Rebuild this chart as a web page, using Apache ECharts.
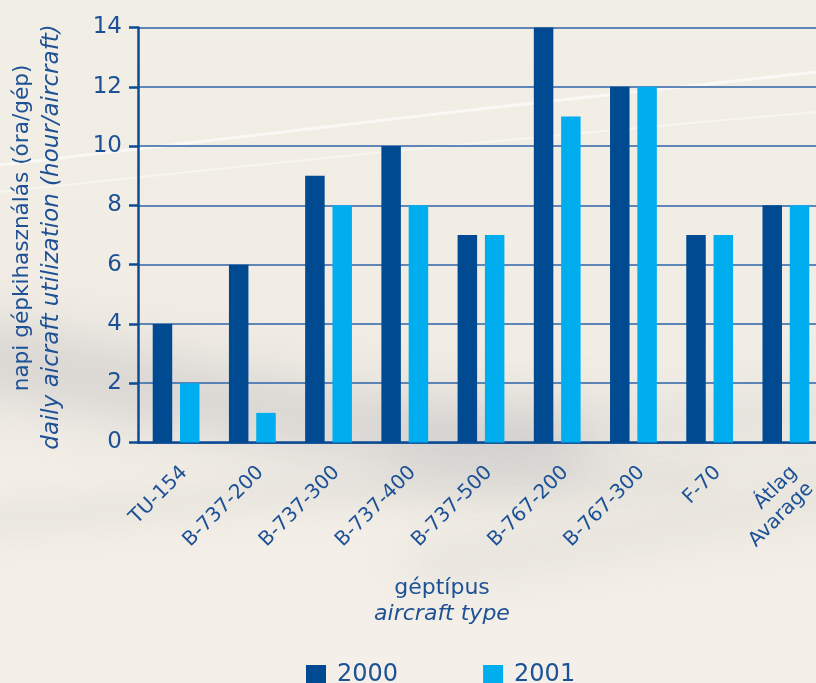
<!DOCTYPE html>
<html>
<head>
<meta charset="utf-8">
<script src="https://cdn.jsdelivr.net/npm/echarts@6/dist/echarts.min.js"></script>
<style>html,body{margin:0;padding:0;background:#f3efe7;}#c{width:816px;height:683px;}</style>
</head>
<body>
<div id="c"></div>
<script>
const categories = ['TU-154','B-737-200','B-737-300','B-737-400','B-737-500','B-767-200','B-767-300','F-70','Átlag\nAvarage'];
const values2000 = [4, 6, 9, 10, 7, 14, 12, 7, 8];
const values2001 = [2, 1, 8, 8, 7, 11, 12, 7, 8];
const yTicks = {min: 0, max: 14, interval: 2};
const seriesNames = ['2000', '2001'];

const TXT = '#1d5196';
const AX = '#0d4b94';
const FONT = 'DejaVu Sans';
const OFF = 2000; // decorative swooshes drawn off-canvas; only their blurred shadows show

function swoosh(x1, y1, cx1, cy1, cx2, cy2, x2, y2, w, color, blur) {
  return {type: 'bezierCurve', z: -19, silent: true,
    shape: {x1: x1 - OFF, y1: y1, cpx1: cx1 - OFF, cpy1: cy1, cpx2: cx2 - OFF, cpy2: cy2, x2: x2 - OFF, y2: y2},
    style: {stroke: '#000', lineWidth: w, lineCap: 'round', fill: null, shadowBlur: blur, shadowColor: color, shadowOffsetX: OFF, shadowOffsetY: 0}};
}

const chart = echarts.init(document.getElementById('c'), null, {renderer: 'canvas'});
chart.setOption({
  backgroundColor: '#f3efe7',
  animation: false,
  textStyle: {fontFamily: FONT},
  graphic: [
    {type: 'rect', z: -20, silent: true, shape: {x: 0, y: 0, width: 816, height: 683},
     style: {fill: new echarts.graphic.LinearGradient(0, 0, 0, 1, [
       {offset: 0, color: '#f1eee6'}, {offset: 0.5, color: '#f1ede5'}, {offset: 1, color: '#f4f0e9'}])}},
    swoosh(-100, 345, 100, 370, 280, 430, 560, 445, 60, 'rgba(170,170,176,0.42)', 60),
    swoosh(420, 450, 540, 440, 680, 425, 900, 405, 45, 'rgba(185,185,190,0.28)', 50),
    swoosh(-100, 530, 150, 505, 400, 480, 700, 478, 22, 'rgba(195,194,192,0.28)', 30),
    swoosh(430, 565, 600, 540, 720, 510, 900, 480, 40, 'rgba(195,194,192,0.28)', 45),
    {type: 'bezierCurve', z: -18, silent: true,
     shape: {x1: 0, y1: 165, cpx1: 250, cpy1: 135, cpx2: 550, cpy2: 100, x2: 816, y2: 72},
     style: {stroke: 'rgba(255,255,255,0.6)', lineWidth: 3, fill: null}},
    {type: 'bezierCurve', z: -18, silent: true,
     shape: {x1: 0, y1: 192, cpx1: 250, cpy1: 165, cpx2: 550, cpy2: 135, x2: 816, y2: 112},
     style: {stroke: 'rgba(255,255,255,0.45)', lineWidth: 2, fill: null}},
    {type: 'text', z: 10, x: 22, y: 228, rotation: Math.PI / 2,
     style: {text: 'napi gépkihasználás (óra/gép)', fill: TXT, font: '21.6px "DejaVu Sans"', align: 'center', verticalAlign: 'middle'}},
    {type: 'text', z: 10, x: 52, y: 237, rotation: Math.PI / 2,
     style: {text: 'daily aicraft utilization (hour/aircraft)', fill: TXT, font: 'italic 23px "DejaVu Sans"', align: 'center', verticalAlign: 'middle'}},
    {type: 'text', z: 10, x: 442, y: 588,
     style: {text: 'géptípus', fill: TXT, font: '22px "DejaVu Sans"', align: 'center', verticalAlign: 'middle'}},
    {type: 'text', z: 10, x: 442, y: 614,
     style: {text: 'aircraft type', fill: TXT, font: 'italic 22px "DejaVu Sans"', align: 'center', verticalAlign: 'middle'}}
  ],
  grid: {left: 138, top: 27.5, width: 686, height: 415, outerBoundsMode: 'none', containLabel: false},
  legend: {
    left: 306, top: 663, padding: 0, itemWidth: 20, itemHeight: 20, itemGap: 85,
    icon: 'rect',
    textStyle: {color: TXT, fontSize: 24, fontFamily: FONT, padding: [0, 0, 0, 6]},
    data: seriesNames
  },
  xAxis: {
    type: 'category', data: categories,
    axisLine: {lineStyle: {color: AX, width: 2.5}},
    axisTick: {length: 10, lineStyle: {color: AX, width: 2.5}},
    axisLabel: {rotate: 45, margin: 19, color: TXT, fontSize: 20, fontFamily: FONT, interval: 0,
      verticalAlign: 'top', align: 'right', lineHeight: 23}
  },
  yAxis: {
    type: 'value', min: yTicks.min, max: yTicks.max, interval: yTicks.interval,
    axisLine: {show: true, lineStyle: {color: AX, width: 2.5}},
    axisTick: {show: true, length: 9, lineStyle: {color: AX, width: 2.5}},
    axisLabel: {color: TXT, fontSize: 23, fontFamily: FONT, margin: 16},
    splitLine: {lineStyle: {color: '#2e63a6', width: 1.5}}
  },
  series: [
    {name: seriesNames[0], type: 'bar', data: values2000, barWidth: 19.5, barGap: '40%',
     itemStyle: {color: '#004a92'}},
    {name: seriesNames[1], type: 'bar', data: values2001, barWidth: 19.5, barGap: '40%',
     itemStyle: {color: '#00aeef'}}
  ]
});
</script>
</body>
</html>
